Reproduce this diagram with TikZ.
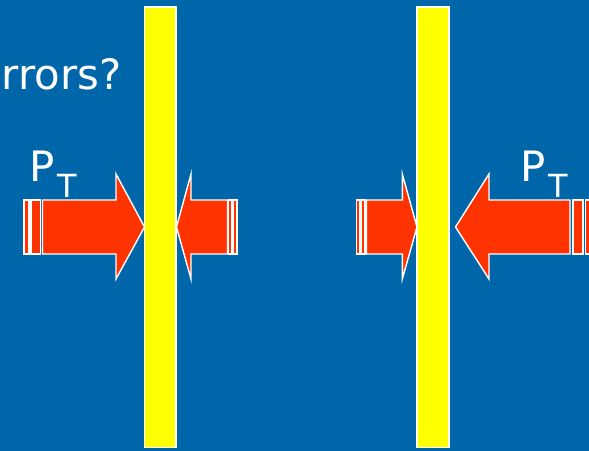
\documentclass[tikz,border=0pt]{standalone}
\usepackage{fontspec}
\setmainfont{DejaVu Sans}
\definecolor{bgblue}{HTML}{0066AA}
\definecolor{arrred}{HTML}{FF3300}
\definecolor{baryel}{HTML}{FFFF00}
\tikzset{
  wall/.style={fill=baryel,draw=white,line width=1.6bp},
  arrowshape/.style={fill=arrred,draw=white,line width=1.4bp,line join=miter},
  strip/.style={fill=arrred,draw=white,line width=1.4bp},
  bigtext/.style={text=white,inner sep=0pt,font=\fontsize{42}{42}\selectfont},
}
\begin{document}
\begin{tikzpicture}[x=1bp,y=-1bp]
\fill[bgblue] (0,0) rectangle (589,451);
\useasboundingbox (0,0) rectangle (589,451);
\begin{scope}
\clip (0,0) rectangle (589,451);
% walls
\draw[wall] (144.5,7) rectangle (176,447.5);
\draw[wall] (417,7) rectangle (448.7,447.5);
% left panel: right-pointing arrow
\draw[strip] (23.8,200) rectangle (29,254);
\draw[strip] (31,200) rectangle (40.5,254);
\draw[arrowshape] (42.5,200) -- (116,200) -- (116,174) -- (144.5,227) -- (116,279) -- (116,254) -- (42.5,254) -- cycle;
% left panel: left-pointing arrow
\draw[arrowshape] (227.5,200) -- (191,200) -- (191,174) -- (176.5,227) -- (191,279) -- (191,254) -- (227.5,254) -- cycle;
\draw[strip] (228.5,200) rectangle (232,254);
\draw[strip] (233.5,200) rectangle (237,254);
% right panel: right-pointing arrow
\draw[strip] (356.5,200) rectangle (360,254);
\draw[strip] (361.5,200) rectangle (365,254);
\draw[arrowshape] (366.5,200) -- (402.3,200) -- (402.3,174) -- (417,227) -- (402.3,279) -- (402.3,254) -- (366.5,254) -- cycle;
% right panel: left-pointing arrow
\draw[arrowshape] (570,200) -- (489,200) -- (489,174) -- (455.5,227) -- (489,279) -- (489,254) -- (570,254) -- cycle;
\draw[strip] (573,200) rectangle (583,254);
\draw[strip] (585.5,200) rectangle (595,254);
% texts
\node[bigtext,anchor=base west] (q) at (1.5,90) {rrors?};
\node[bigtext,anchor=base west] (pl) at (29,182) {P\hspace{3bp}\raisebox{-16bp}{\fontsize{32}{32}\selectfont T}};
\node[bigtext,anchor=base west] (pr) at (520,182) {P\hspace{3bp}\raisebox{-16bp}{\fontsize{32}{32}\selectfont T}};
\end{scope}
\end{tikzpicture}
\end{document}
